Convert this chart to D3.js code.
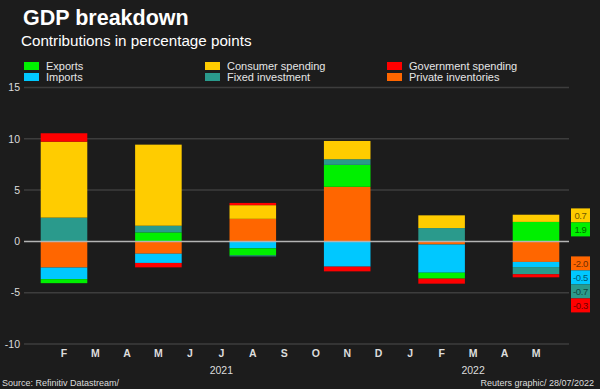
<!DOCTYPE html>
<html><head><meta charset="utf-8">
<script src="https://cdn.jsdelivr.net/npm/d3@7"></script>
<style>
html,body{margin:0;padding:0;background:#1c1c1c;}
svg{display:block;}
</style></head>
<body>
<svg id="chart" width="600" height="389"></svg>
<script>
// ---- data ----
const monthLabels = ["F","M","A","M","J","J","A","S","O","N","D","J","F","M","A","M"];
const yearLabels = [{year:"2021", from:0, to:10},{year:"2022", from:11, to:15}];
const quarterMonthIndex = [0, 3, 6, 9, 12, 15]; // Q1'21 .. Q2'22 plotted at mid-quarter month
const yTicks = [-10, -5, 0, 5, 10, 15];

const seriesNames = ["Private inventories","Imports","Exports","Fixed investment","Consumer spending","Government spending"];
const inventories = [-2.55, -1.2, 2.2, 5.32, -0.3, -2.0];
const imports     = [-1.13, -0.9, -0.68, -2.46, -2.75, -0.5];
const exportsV    = [-0.39, 0.88, -0.68, 2.14, -0.58, 1.9];
const fixedInv    = [2.32, 0.65, -0.1, 0.55, 1.3, -0.7];
const consumer    = [7.4, 7.9, 1.33, 1.78, 1.24, 0.7];
const government  = [0.82, -0.43, 0.22, -0.46, -0.49, -0.3];

const colors = {
  "Exports":"#00f000",
  "Imports":"#00c8ff",
  "Consumer spending":"#ffcc00",
  "Fixed investment":"#2a9a8c",
  "Government spending":"#ff0000",
  "Private inventories":"#ff6600"
};
const legendOrder = [["Exports","Imports"],["Consumer spending","Fixed investment"],["Government spending","Private inventories"]];

const seriesValues = [inventories, imports, exportsV, fixedInv, consumer, government];
const rows = quarterMonthIndex.map((m,i)=>{
  const r = {m};
  seriesNames.forEach((n,k)=>r[n]=seriesValues[k][i]);
  return r;
});

// ---- chart ----
const svg = d3.select("#chart");
const W = 600, H = 389;
svg.append("rect").attr("width",W).attr("height",H).attr("fill","#1c1c1c");

const font = "'Liberation Sans', Arial, sans-serif";
const narrow = "'Liberation Sans Narrow','Arial Narrow','Liberation Sans',sans-serif";

svg.append("text").attr("x",23).attr("y",25).text("GDP breakdown")
  .attr("fill","#fff").attr("font-family",font).attr("font-weight","bold").attr("font-size",21.5);
svg.append("text").attr("x",21).attr("y",46).text("Contributions in percentage points")
  .attr("fill","#fff").attr("font-family",font).attr("font-size",15.2);

// legend
const legX = [24, 205, 387];
legendOrder.forEach((col,ci)=>{
  col.forEach((name,ri)=>{
    const g = svg.append("g").attr("transform",`translate(${legX[ci]},${62+ri*11})`);
    g.append("rect").attr("width",15).attr("height",8).attr("fill",colors[name]);
    g.append("text").attr("x",22).attr("y",4).attr("dy","0.36em").text(name)
      .attr("fill","#e6e6e6").attr("font-family",font).attr("font-size",11);
  });
});

const y = d3.scaleLinear().domain([-10,15]).range([344,87.5]);
const x = d3.scalePoint().domain(d3.range(monthLabels.length)).range([64,536]);
const barW = x.step()*1.48;
const gridX0 = 24, gridX1 = 569;

// grid
svg.append("g").selectAll("line").data(yTicks.filter(t=>t!==0)).join("line")
  .attr("x1",gridX0).attr("x2",gridX1).attr("y1",d=>y(d)).attr("y2",d=>y(d))
  .attr("stroke","#3d3d3d").attr("stroke-width",1.5);

// y labels
svg.append("g").selectAll("text").data(yTicks).join("text")
  .attr("x",20).attr("y",d=>y(d)).attr("dy","0.36em").attr("text-anchor","end")
  .text(d=>d).attr("fill","#dcdcdc").attr("font-family",narrow).attr("font-size",10.5);

// stacks
const stack = d3.stack().keys(seriesNames).offset(d3.stackOffsetDiverging);
const layers = stack(rows);
svg.append("g").selectAll("g").data(layers).join("g")
  .attr("fill",d=>colors[d.key])
  .selectAll("rect").data(d=>d).join("rect")
  .attr("x",d=>x(d.data.m)-barW/2).attr("width",barW)
  .attr("y",d=>y(Math.max(d[0],d[1]))).attr("height",d=>Math.abs(y(d[0])-y(d[1])));

// zero line
svg.append("line").attr("x1",gridX0).attr("x2",gridX1).attr("y1",y(0)).attr("y2",y(0))
  .attr("stroke","#b4b4b4").attr("stroke-width",1.5);

// x labels
svg.append("g").selectAll("text").data(monthLabels).join("text")
  .attr("x",(d,i)=>x(i)).attr("y",357).attr("text-anchor","middle").text(d=>d)
  .attr("fill","#dcdcdc").attr("font-family",narrow).attr("font-weight","bold").attr("font-size",10.5);
svg.append("g").selectAll("text").data(yearLabels).join("text")
  .attr("x",d=>(x(d.from)+x(d.to))/2).attr("y",374).attr("text-anchor","middle").text(d=>d.year)
  .attr("fill","#dcdcdc").attr("font-family",narrow).attr("font-size",10.5);

// value labels for last bar
const last = rows[rows.length-1];
const boxW = 19, boxH = 14, boxX = 571;
const posKeys = seriesNames.filter(k=>last[k]>0);
const negKeys = seriesNames.filter(k=>last[k]<0);
const posTop = [...posKeys].reverse();
const lab = [];
posTop.forEach((k,i)=>lab.push({k, top: y(0)-5-(posTop.length-i)*boxH}));
negKeys.forEach((k,i)=>lab.push({k, top: y(0)+15+i*boxH}));
const lg = svg.append("g").selectAll("g").data(lab).join("g")
  .attr("transform",d=>`translate(${boxX},${d.top})`);
lg.append("rect").attr("width",boxW).attr("height",boxH).attr("fill",d=>colors[d.k]);
lg.append("text").attr("x",boxW/2).attr("y",boxH/2).attr("dy","0.36em").attr("text-anchor","middle")
  .text(d=>d3.format(".1f")(last[d.k]).replace("−","-"))
  .attr("fill",d=>d3.color(colors[d.k]).darker(2.3)).attr("font-family",font)
  .attr("font-size",9.5).attr("letter-spacing",-0.4);

// footer
svg.append("text").attr("x",2).attr("y",386).text("Source: Refinitiv Datastream/")
  .attr("fill","#dcdcdc").attr("font-family",font).attr("font-size",9);
svg.append("text").attr("x",594).attr("y",386).attr("text-anchor","end").text("Reuters graphic/ 28/07/2022")
  .attr("fill","#dcdcdc").attr("font-family",font).attr("font-size",9);
</script>
</body></html>
